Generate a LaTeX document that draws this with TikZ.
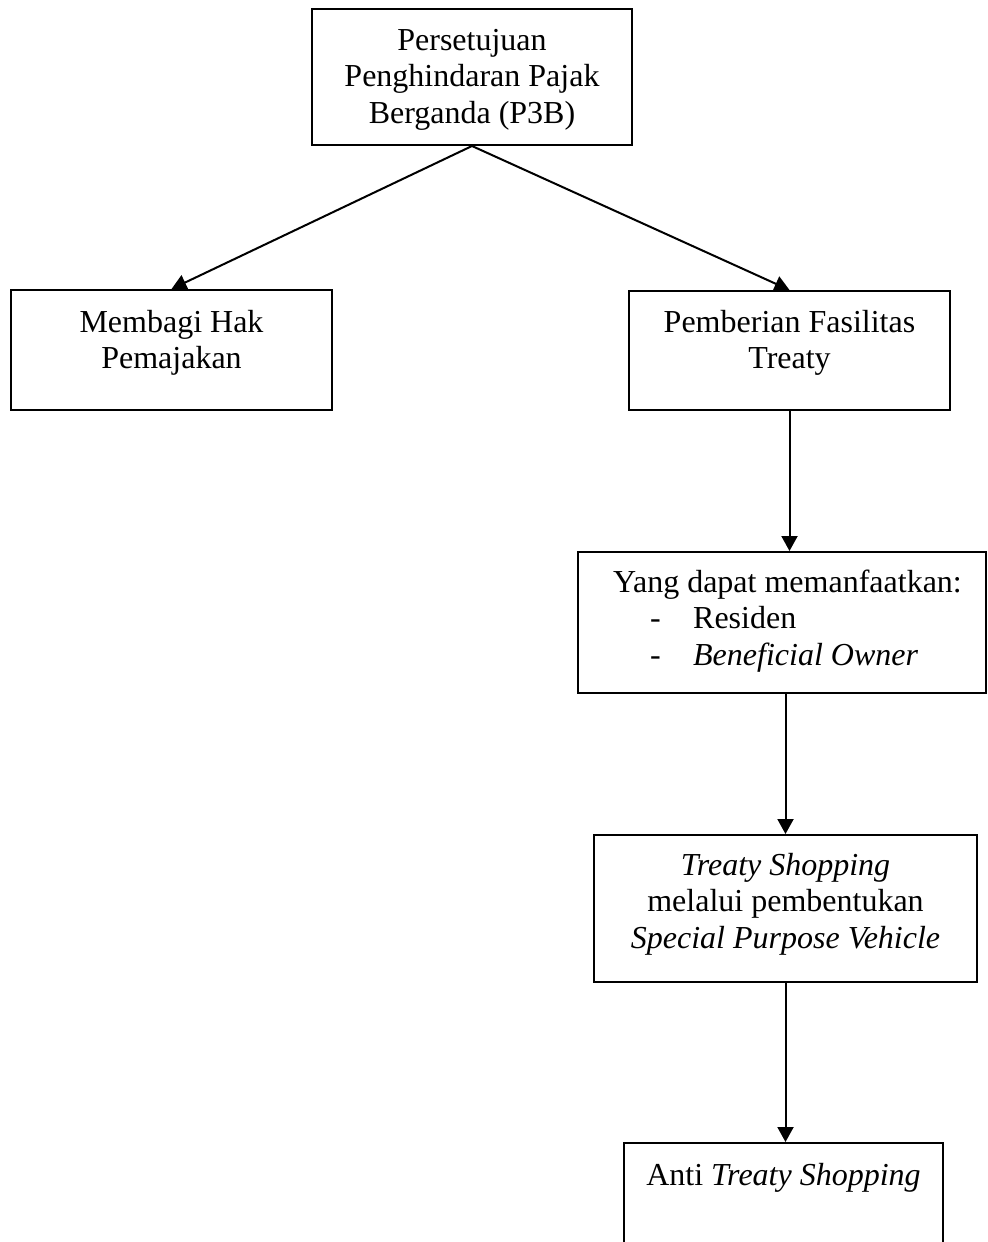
\documentclass[tikz,border=0pt]{standalone}
\usepackage{fontspec}
\setmainfont{Liberation Serif}
\usetikzlibrary{arrows.meta}

\begin{document}
\begin{tikzpicture}[x=0.5pt,y=-0.5pt,
    box/.style={draw,line width=1pt,inner sep=0pt,anchor=base,
        font=\fontsize{16}{18.25}\selectfont},
    arr/.style={-{Triangle[length=7.5pt,width=8pt]},line width=1pt}]
    \clip (0,0) rectangle (987,1242);

    % P3B and its two branches
    \node[box,minimum width=160pt,text height=20.5pt,text depth=47.5pt] (p3b) at (472,50)
        {\begin{tabular}[t]{@{}c@{}}Persetujuan\\Penghindaran Pajak\\Berganda (P3B)\end{tabular}};
    \node[box,minimum width=160.5pt,text height=21pt,text depth=39pt] (hak) at (171.5,332)
        {\begin{tabular}[t]{@{}c@{}}Membagi Hak\\Pemajakan\end{tabular}};
    \node[box,minimum width=160.5pt,text height=20.5pt,text depth=39pt] (fasilitas) at (789.5,332)
        {\begin{tabular}[t]{@{}c@{}}Pemberian Fasilitas\\Treaty\end{tabular}};
    \draw[arr] (p3b.south) -- (hak.north);
    \draw[arr] (p3b.south) -- (fasilitas.north);

    % who may use the treaty
    \node[box,minimum width=204pt,text height=20pt,text depth=50.5pt] (residen) at (782,592)
        {\begin{tabular}[t]{@{\hspace{5.5pt}}l@{}}Yang dapat memanfaatkan:\\
        \makebox[40pt][l]{\hspace{18.5pt}-}Residen\\
        \makebox[40pt][l]{\hspace{18.5pt}-}\textit{Beneficial Owner}\end{tabular}};
    \draw[arr] (fasilitas.south) -- (fasilitas.south |- residen.north);

    % treaty shopping
    \node[box,minimum width=191.5pt,text height=20pt,text depth=53.5pt] (spv) at (785.5,875)
        {\begin{tabular}[t]{@{}c@{}}\textit{Treaty Shopping}\\melalui pembentukan\\\textit{Special Purpose Vehicle}\end{tabular}};
    \draw[arr] (spv.north |- residen.south) -- (spv.north);

    \node[box,minimum width=159.5pt,text height=21pt,text depth=40pt] (anti) at (783.5,1185)
        {Anti \textit{Treaty Shopping}};
    \draw[arr] (spv.south) -- (spv.south |- anti.north);
\end{tikzpicture}
\end{document}
